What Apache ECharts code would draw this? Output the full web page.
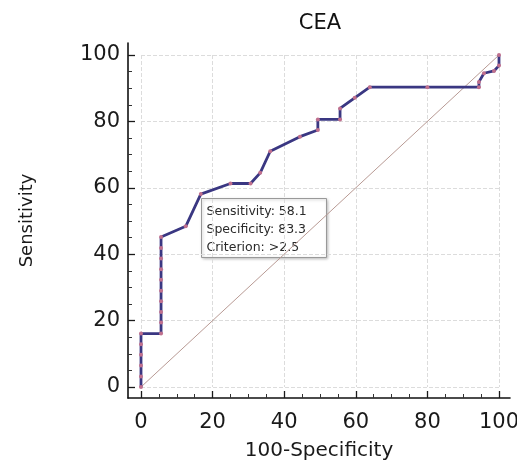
<!DOCTYPE html>
<html>
<head>
<meta charset="utf-8">
<script src="https://cdn.jsdelivr.net/npm/echarts@6/dist/echarts.min.js"></script>
<style>
  html, body { margin: 0; padding: 0; background: #fff; }
  #roc { width: 517px; height: 462px; }
</style>
</head>
<body>
<div id="roc"></div>
<script>
  // ROC 曲线 数据（从图上读的）
  const rocX = [0, 0, 0, 0, 0, 0,
    5.6, 5.6, 5.6, 5.6, 5.6, 5.6, 5.6, 5.6, 5.6, 5.6,
    12.5, 16.7, 25, 30.6, 33.3, 36.1, 44.4, 49.4, 49.4, 55.6, 55.6, 59.7, 63.9,
    80, 94.4, 94.4, 95.8, 98.6, 100, 100]
  const rocY = [0, 3.2, 6.5, 9.7, 12.9, 16.1,
    16.1, 19.4, 22.6, 25.8, 29.0, 32.3, 35.5, 38.7, 41.9, 45.2,
    48.4, 58.1, 61.3, 61.3, 64.5, 71.0, 75.4, 77.4, 80.6, 80.6, 83.9, 87.1, 90.3,
    90.3, 90.3, 91.9, 94.5, 95.2, 96.8, 100]
  const diagX = [0, 100]
  const diagY = [0, 100]
  const tickValues = [0, 20, 40, 60, 80, 100]
  const minorValues = [5, 10, 15, 25, 30, 35, 45, 50, 55, 65, 70, 75, 85, 90, 95]
  const boxLines = ['Sensitivity: 58.1', 'Specificity: 83.3', 'Criterion: >2.5']

  const font = 'DejaVu Sans'
  var myChart = echarts.init(document.querySelector('#roc'))

  // 数据轴 0-100 只画网格线
  function dataAxis () {
    return {
      type: 'value',
      gridIndex: 0,
      min: 0,
      max: 100,
      interval: 20,
      axisLine: { show: false },
      axisTick: { show: false },
      axisLabel: { show: false },
      splitLine: { show: true, lineStyle: { color: '#dcdcdc', type: 'dashed', width: 1 } }
    }
  }

  // 外框轴线 + 大刻度 + 标签 （范围比 0-100 稍大）
  function frameAxis (isX) {
    return {
      type: 'value',
      gridIndex: 1,
      position: isX ? 'bottom' : 'left',
      min: isX ? -3.631 : -3.313,
      max: isX ? 103.07 : 103.61,
      name: isX ? '100-Specificity' : 'Sensitivity',
      nameLocation: 'middle',
      nameGap: isX ? 43 : 92,
      nameTextStyle: { fontFamily: font, fontSize: isX ? 20 : 18, color: '#1a1a1a' },
      axisLine: { show: true, onZero: false, lineStyle: { color: '#111', width: 1.6 } },
      axisTick: { show: true, inside: true, length: 7, customValues: tickValues, lineStyle: { color: '#1a1a1a', width: 1.3 } },
      axisLabel: {
        show: true, customValues: tickValues,
        fontFamily: font, fontSize: 21, color: '#1a1a1a', margin: isX ? 14 : 8
      },
      splitLine: { show: false }
    }
  }

  // 小刻度
  function minorAxis (isX) {
    return {
      type: 'value',
      gridIndex: 1,
      position: isX ? 'bottom' : 'left',
      min: isX ? -3.631 : -3.313,
      max: isX ? 103.07 : 103.61,
      axisLine: { show: false, onZero: false },
      axisTick: { show: true, inside: true, length: 4, customValues: minorValues, lineStyle: { color: '#333', width: 1 } },
      axisLabel: { show: false },
      splitLine: { show: false }
    }
  }

  const option = {
    animation: false,
    title: {
      text: 'CEA',
      left: 320,
      textAlign: 'center',
      top: 13,
      padding: 0,
      textStyle: { fontFamily: font, fontSize: 21, fontWeight: 'normal', color: '#111' }
    },
    grid: [
      { left: 141, right: 18, top: 55, bottom: 75, outerBoundsMode: 'none' },
      { left: 128, right: 7, top: 43, bottom: 64, outerBoundsMode: 'none' }
    ],
    xAxis: [dataAxis(), frameAxis(true), minorAxis(true)],
    yAxis: [dataAxis(), frameAxis(false), minorAxis(false)],
    graphic: [
      {
        type: 'group',
        left: 201,
        top: 198,
        children: [
          {
            type: 'rect',
            shape: { x: 0, y: 0, width: 125, height: 59 },
            style: { fill: '#fff', stroke: '#999', lineWidth: 1, shadowBlur: 3, shadowColor: 'rgba(0,0,0,0.25)', shadowOffsetX: 1, shadowOffsetY: 1 }
          },
          {
            type: 'text',
            x: 5,
            y: 4,
            style: { text: boxLines.join('\n'), fontFamily: font, fontSize: 12.5, lineHeight: 18, fill: '#2a2a2a' }
          }
        ]
      }
    ],
    series: [
      {
        type: 'line',
        xAxisIndex: 0,
        yAxisIndex: 0,
        data: diagX.map((v, i) => [v, diagY[i]]),
        showSymbol: false,
        lineStyle: { color: '#b89a94', width: 1 },
        z: 1
      },
      {
        type: 'line',
        xAxisIndex: 0,
        yAxisIndex: 0,
        data: rocX.map((v, i) => [v, rocY[i]]),
        symbol: 'circle',
        symbolSize: 4,
        itemStyle: { color: '#c0708e' },
        lineStyle: { color: '#3a3782', width: 2.8 },
        z: 3
      }
    ]
  }

  myChart.setOption(option)
</script>
</body>
</html>
